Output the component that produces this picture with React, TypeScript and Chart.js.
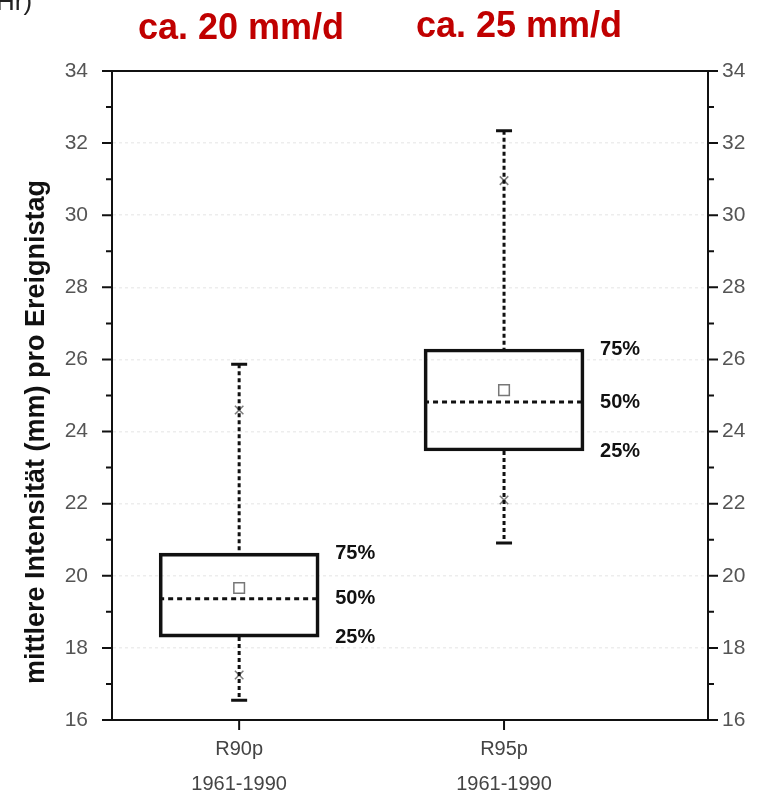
import React, { useEffect, useRef } from "react";
import { Chart, registerables } from "chart.js";

Chart.register(...registerables);

const categories = ["R90p", "R95p"];
const periods = ["1961-1990", "1961-1990"];
const q1 = [18.3, 23.46];
const median = [19.36, 24.82];
const q3 = [20.63, 26.29];
const mean = [19.66, 25.15];
const whiskerLow = [16.55, 20.91];
const whiskerHigh = [25.87, 32.34];
const p1 = [17.25, 22.1];
const p99 = [24.6, 30.96];
const headlines = ["ca. 20 mm/d", "ca. 25 mm/d"];
const percentLabels = ["75%", "50%", "25%"];
const yTicks = [16, 18, 20, 22, 24, 26, 28, 30, 32, 34];
const yTitle = "mittlere Intensität (mm) pro Ereignistag";

const FONT = "'Liberation Sans', Arial, sans-serif";

const boxPlugin = {
  id: "boxDecor",
  afterDatasetsDraw(chart: any) {
    const ctx = chart.ctx;
    const x = chart.scales.x;
    const y = chart.scales.y;
    const area = chart.chartArea;
    const barMeta = chart.getDatasetMeta(0);
    ctx.save();
    categories.forEach((_, i) => {
      const bar = barMeta.data[i];
      const cx = x.getPixelForValue(i + 1);
      const half = bar.width / 2;
      ctx.strokeStyle = "#111";
      ctx.lineWidth = 3;
      ctx.setLineDash([4, 3]);
      ctx.beginPath();
      ctx.moveTo(cx, y.getPixelForValue(whiskerHigh[i]));
      ctx.lineTo(cx, y.getPixelForValue(q3[i]));
      ctx.moveTo(cx, y.getPixelForValue(q1[i]));
      ctx.lineTo(cx, y.getPixelForValue(whiskerLow[i]));
      ctx.stroke();
      ctx.setLineDash([5, 4]);
      ctx.beginPath();
      ctx.moveTo(cx - half, y.getPixelForValue(median[i]));
      ctx.lineTo(cx + half, y.getPixelForValue(median[i]));
      ctx.stroke();
      ctx.setLineDash([]);
      ctx.beginPath();
      ctx.moveTo(cx - 8, y.getPixelForValue(whiskerHigh[i]));
      ctx.lineTo(cx + 8, y.getPixelForValue(whiskerHigh[i]));
      ctx.moveTo(cx - 8, y.getPixelForValue(whiskerLow[i]));
      ctx.lineTo(cx + 8, y.getPixelForValue(whiskerLow[i]));
      ctx.stroke();
      ctx.fillStyle = "#111";
      ctx.font = "bold 20px " + FONT;
      ctx.textAlign = "left";
      ctx.textBaseline = "middle";
      const vals = [q3[i], median[i], q1[i]];
      percentLabels.forEach((lab, k) => {
        ctx.fillText(lab, cx + half + 16, y.getPixelForValue(vals[k]));
      });
    });
    ctx.strokeStyle = "#111";
    ctx.lineWidth = 2;
    ctx.beginPath();
    ctx.moveTo(area.left - 1, area.top);
    ctx.lineTo(area.right + 1, area.top);
    ctx.stroke();
    for (let v = 16; v <= 34; v++) {
      const py = y.getPixelForValue(v);
      const len = v % 2 === 0 ? 10 : 6;
      ctx.beginPath();
      ctx.moveTo(area.left - len, py);
      ctx.lineTo(area.left, py);
      ctx.moveTo(area.right, py);
      ctx.lineTo(area.right + len, py);
      ctx.stroke();
    }
    categories.forEach((_, i) => {
      const px = x.getPixelForValue(i + 1);
      ctx.beginPath();
      ctx.moveTo(px, area.bottom);
      ctx.lineTo(px, area.bottom + 10);
      ctx.stroke();
    });
    ctx.fillStyle = "#c00000";
    ctx.font = "bold 36px " + FONT;
    ctx.textAlign = "center";
    ctx.textBaseline = "alphabetic";
    ctx.fillText(headlines[0], 241, 39);
    ctx.fillText(headlines[1], 519, 37);
    ctx.fillStyle = "#222";
    ctx.font = "26px " + FONT;
    ctx.textAlign = "left";
    ctx.fillText("Hr)", -4, 10);
    ctx.save();
    ctx.translate(37, 432);
    ctx.rotate(-Math.PI / 2);
    ctx.fillStyle = "#111";
    ctx.font = "bold 27px " + FONT;
    ctx.textAlign = "center";
    ctx.textBaseline = "middle";
    ctx.fillText(yTitle, 0, 0);
    ctx.restore();
    ctx.restore();
  },
};

export default function App() {
  const ref = useRef<HTMLCanvasElement>(null);
  useEffect(() => {
    if (!ref.current) return;
    const yScaleCommon = {
      min: 16,
      max: 34,
      afterBuildTicks: (s: any) => {
        s.ticks = yTicks.map((v) => ({ value: v }));
      },
      ticks: {
        color: "#555",
        font: { family: FONT, size: 21 },
      },
      border: { display: true, color: "#111", width: 2 },
    };
    const chart = new Chart(ref.current, {
      type: "bar",
      data: {
        datasets: [
          {
            type: "bar",
            label: "box",
            data: categories.map((_, i) => ({ x: i + 1, y: [q1[i], q3[i]] })) as any,
            backgroundColor: "rgba(255,255,255,0)",
            borderColor: "#111",
            borderWidth: 3,
            borderSkipped: false,
            barThickness: 160,
          } as any,
          {
            type: "scatter",
            label: "mean",
            data: categories.map((_, i) => ({ x: i + 1, y: mean[i] })),
            pointStyle: "rect",
            pointRadius: 7.5,
            borderColor: "#777",
            backgroundColor: "rgba(255,255,255,1)",
            borderWidth: 1.5,
          } as any,
          {
            type: "scatter",
            label: "extremes",
            data: categories.flatMap((_, i) => [
              { x: i + 1, y: p1[i] },
              { x: i + 1, y: p99[i] },
            ]),
            pointStyle: "crossRot",
            pointRadius: 6,
            borderColor: "rgba(90,90,90,0.8)",
            borderWidth: 1.5,
          } as any,
        ],
      },
      options: {
        animation: false,
        responsive: true,
        maintainAspectRatio: false,
        layout: { padding: { top: 71, left: 0, right: 0, bottom: 0 } },
        plugins: { legend: { display: false }, tooltip: { enabled: false }, title: { display: false } },
        scales: {
          x: {
            type: "linear",
            position: "bottom",
            offset: false,
            min: 0.52,
            max: 2.77,
            afterBuildTicks: (s: any) => {
              s.ticks = categories.map((_, i) => ({ value: i + 1 }));
            },
            afterFit: (s: any) => {
              s.height = 81;
            },
            ticks: {
              color: "#444",
              padding: 12,
              font: { family: FONT, size: 20, lineHeight: 1.75 },
              maxRotation: 0,
              autoSkip: false,
              callback: (v: any) => {
                const i = Math.round(Number(v)) - 1;
                return [categories[i], periods[i]];
              },
            },
            grid: { display: false, drawTicks: false, offset: false },
            border: { display: true, color: "#111", width: 2 },
          },
          y: {
            ...yScaleCommon,
            position: "left",
            afterFit: (s: any) => {
              s.width = 112;
            },
            ticks: { ...yScaleCommon.ticks, padding: 24 },
            grid: {
              display: true,
              drawTicks: false,
              color: "rgba(0,0,0,0.07)",
              lineWidth: 1.5,
            },
            border: { display: true, color: "#111", width: 2, dash: [3, 3] },
          },
          y2: {
            ...yScaleCommon,
            position: "right",
            afterFit: (s: any) => {
              s.width = 55;
            },
            ticks: { ...yScaleCommon.ticks, padding: 14 },
            grid: { display: false, drawTicks: false },
          },
        },
      } as any,
      plugins: [boxPlugin],
    });
    return () => chart.destroy();
  }, []);
  return (
    <div style={{ position: "fixed", left: 0, top: 0, width: 763, height: 801, background: "#fff" }}>
      <canvas ref={ref} />
    </div>
  );
}
